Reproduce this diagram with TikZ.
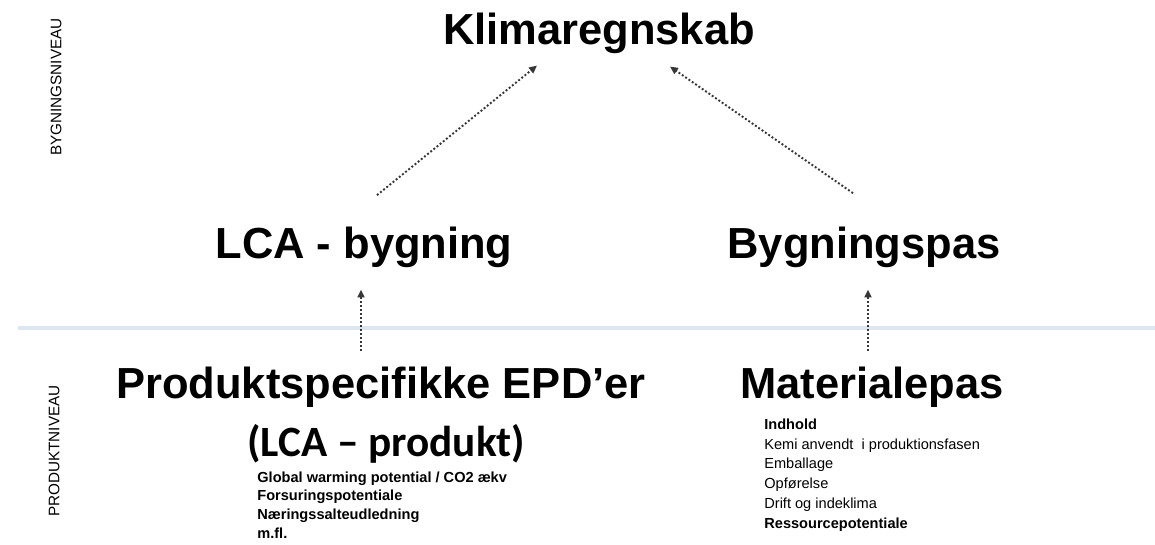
\documentclass[tikz,border=0pt]{standalone}
\usepackage{fontspec}
\setmainfont{Liberation Sans}
\newfontfamily\carlitofont{Carlito}
\usetikzlibrary{calc,arrows.meta}
\definecolor{dividerblue}{RGB}{222,231,239}
\definecolor{dotgray}{RGB}{55,55,55}
\tikzset{
  heading/.style={font=\fontsize{24.75}{29}\selectfont\bfseries, inner sep=0pt, anchor=base},
  subheading/.style={font=\fontsize{24.6}{29}\selectfont\carlitofont\bfseries, inner sep=0pt, anchor=base},
  itemtext/.style={font=\fontsize{8.3}{10}\selectfont, inner sep=0pt, anchor=base west},
  levelname/.style={font=\fontsize{8.7}{10}\selectfont, rotate=90, inner sep=0pt},
  levelline/.style={draw=dividerblue, line width=1.8pt},
  dotarrow/.style={draw=dotgray, line width=1.1pt, dash pattern=on 1.1pt off 1.2pt,
    -{Triangle[length=4.5pt,width=4pt]}}
}

\begin{document}
\begin{tikzpicture}[x=0.02cm, y=-0.02cm]
  \useasboundingbox (0,0) rectangle (1155,544);
  % levels
  \node[levelname] (bygniv) at (56,87) {BYGNINGSNIVEAU};
  \node[levelname] (prodniv) at (54,451) {PRODUKTNIVEAU};
  \draw[levelline] (18,328) -- (1155,328);
  % building level
  \node[heading] (klima) at (599,45) {Klimaregnskab};
  \node[heading] (lca) at (364,258) {LCA - bygning};
  \node[heading] (pas) at (864,258) {Bygningspas};
  % product level
  \node[heading] (epd) at (381,398) {Produktspecifikke EPD’er};
  \node[subheading] (lcaprod) at (386,456) {(LCA – produkt)};
  \node[heading] (mat) at (872,398) {Materialepas};
  \foreach \txt [count=\i from 0] in {Global warming potential / CO2 ækv,
      Forsuringspotentiale, Næringssalteudledning, m.fl.}
    \node[itemtext] (epditem\i) at (257,{482+18.7*\i}) {\bfseries\txt};
  \foreach \txt [count=\i from 0] in {\bfseries Indhold, Kemi anvendt\ \ i produktionsfasen,
      Emballage, Opførelse, Drift og indeklima, \bfseries Ressourcepotentiale}
    \node[itemtext] (matitem\i) at (764,{429.5+19.7*\i}) {\txt};
  % arrows
  \coordinate (lcaout) at ($(lca.north)+(13,-31)$);
  \coordinate (klimainl) at ($(klima.south)+(-62,11)$);
  \coordinate (pasout) at ($(pas.north)+(-11,-33)$);
  \coordinate (klimainr) at ($(klima.south)+(71,12)$);
  \coordinate (epdout) at ($(epd.north)+(-20,-15)$);
  \coordinate (lcain) at ($(lca.south)+(-3,22)$);
  \coordinate (matout) at ($(mat.north)+(-4,-15)$);
  \coordinate (pasin) at ($(pas.south)+(4,22)$);
  \draw[dotarrow] (lcaout) -- (klimainl);
  \draw[dotarrow] (pasout) -- (klimainr);
  \draw[dotarrow] (epdout) -- (lcain);
  \draw[dotarrow] (matout) -- (pasin);
\end{tikzpicture}
\end{document}
